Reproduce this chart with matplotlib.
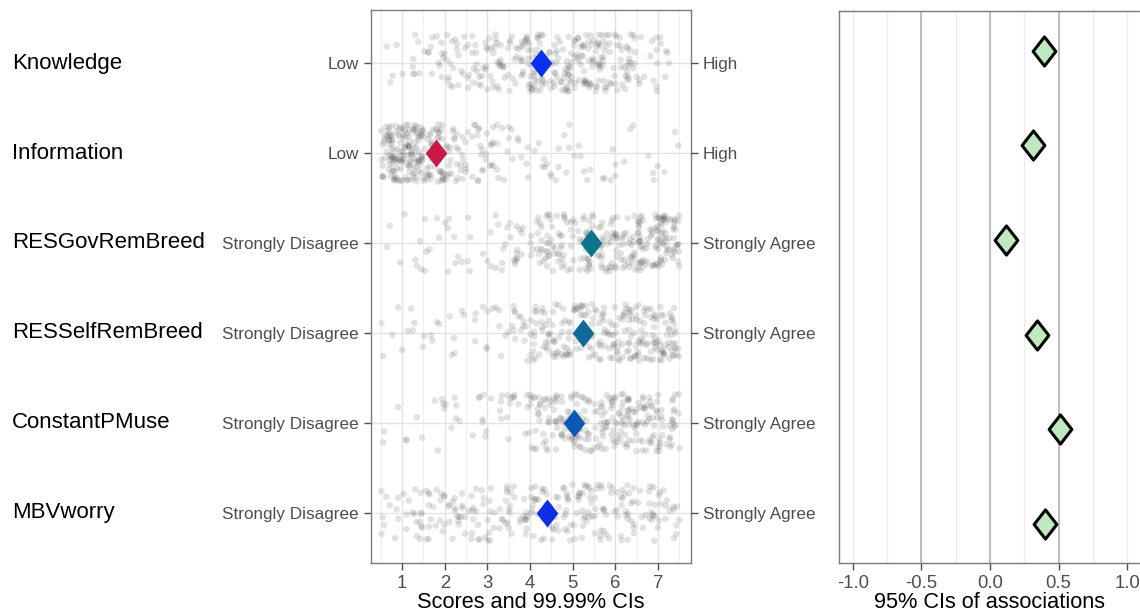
import numpy as np
import matplotlib
matplotlib.use("Agg")
import matplotlib.pyplot as plt
from matplotlib.path import Path
import matplotlib.transforms as mtransforms

plt.rcParams["font.family"] = ["Liberation Sans", "DejaVu Sans"]

# --- data ---
variables = ["Knowledge", "Information", "RESGovRemBreed",
             "RESSelfRemBreed", "ConstantPMuse", "MBVworry"]
low_labels = ["Low", "Low", "Strongly Disagree", "Strongly Disagree",
              "Strongly Disagree", "Strongly Disagree"]
high_labels = ["High", "High", "Strongly Agree", "Strongly Agree",
               "Strongly Agree", "Strongly Agree"]

# mean scores (diamonds, left panel)
mean_scores = [4.26, 1.80, 5.43, 5.24, 5.03, 4.40]
mean_colors = ["#0a30ee", "#c81a48", "#0b7688", "#0f6a98", "#0d58b2", "#0a2fe4"]

# associations (diamonds, right panel)
assoc = [0.39, 0.31, 0.12, 0.34, 0.51, 0.40]

# approximate number of responses in half-point bins from 0.5 to 7.5
bin_edges = np.arange(0.5, 7.51, 0.5)
counts_knowledge = [4, 8, 14, 18, 22, 25, 30, 40, 38, 40, 38, 30, 12, 6]
counts_information = [70, 80, 45, 30, 18, 14, 10, 8, 7, 6, 5, 4, 4, 3]
counts_resgov = [3, 5, 6, 8, 6, 10, 14, 30, 28, 35, 32, 35, 50, 55]
counts_resself = [4, 6, 5, 6, 6, 8, 14, 30, 30, 32, 30, 40, 38, 40]
counts_constant = [3, 4, 5, 6, 8, 8, 10, 30, 32, 36, 38, 42, 36, 30]
counts_mbv = [10, 16, 18, 18, 16, 20, 18, 26, 24, 25, 22, 24, 18, 16]
all_counts = [counts_knowledge, counts_information, counts_resgov,
              counts_resself, counts_constant, counts_mbv]

rows = np.arange(1, len(variables) + 1)


def hash01(k, salt):
    # deterministic scatter of index k into [0, 1), used only for jitter
    v = np.sin(k * 12.9898 + salt * 78.233) * 43758.5453
    return v - np.floor(v)


def jitter_points(counts, row):
    """Spread each bin's responses over the bin width and row height."""
    xs, ys = [], []
    k = 0
    for lo, n in zip(bin_edges[:-1], counts):
        for _ in range(n):
            k += 1
            xs.append(lo + hash01(k, row) * 0.5)
            ys.append(row + (hash01(k, row + 10.5) - 0.5) * 0.64)
    return xs, ys


# tall diamond marker
tall_diamond = Path([(0, -0.5), (0.39, 0), (0, 0.5), (-0.39, 0), (0, -0.5)],
                    [Path.MOVETO, Path.LINETO, Path.LINETO, Path.LINETO,
                     Path.CLOSEPOLY])

fig = plt.figure(figsize=(11.4, 6.13), dpi=100)

# --- left panel: scores ---
ax = fig.add_axes([0.3254, 0.0816, 0.2807, 0.902])
ax.set_xlim(0.27, 7.77)
ax.set_ylim(6.56, 0.41)

for x in np.arange(0.5, 7.6, 0.5):
    is_major = float(x).is_integer()
    ax.axvline(x, color="#e3e3e3" if is_major else "#efefef",
               lw=1.0 if is_major else 0.7, zorder=0)
for r in rows:
    ax.axhline(r, color="#e3e3e3", lw=1.0, zorder=0)

for r, counts in zip(rows, all_counts):
    xs, ys = jitter_points(counts, r)
    ax.scatter(xs, ys, s=22, color="#404040", alpha=0.15,
               edgecolors="none", zorder=2)

for r, m, c in zip(rows, mean_scores, mean_colors):
    ax.plot(m, r, marker=tall_diamond, markersize=20, color=c,
            markeredgewidth=0, zorder=3)

ax.set_xticks(range(1, 8))
ax.set_yticks(rows)
ax.set_yticklabels(low_labels)
ax.tick_params(axis="both", colors="#4d4d4d", labelsize=12.3, length=5,
               width=1)
ax.tick_params(axis="x", labelsize=13.3, pad=4)
ax.set_xlabel("Scores and 99.99% CIs", fontsize=15.7, labelpad=0)
for sp in ax.spines.values():
    sp.set_color("#7a7a7a")
    sp.set_linewidth(1.0)

ax_r = ax.twinx()
ax_r.set_ylim(ax.get_ylim())
ax_r.set_yticks(rows)
ax_r.set_yticklabels(high_labels)
ax_r.tick_params(axis="y", colors="#4d4d4d", labelsize=12.3, length=5, width=1)
for sp in ax_r.spines.values():
    sp.set_visible(False)

# variable names on the far left
trans = mtransforms.blended_transform_factory(fig.transFigure, ax.transData)
for r, name in zip(rows, variables):
    ax.text(12 / 1140, r, name, transform=trans, ha="left", va="center",
            fontsize=16, color="black")

# --- right panel: associations ---
ax2 = fig.add_axes([839 / 1140, 0.0816, 302 / 1140, 0.9005])
ax2.set_xlim(-1.1, 1.1)
ax2.set_ylim(6.41, 0.58)

for x in np.arange(-1.0, 1.01, 0.25):
    ax2.axvline(x, color="#ebebeb", lw=1.0, zorder=0)
for x in [-0.5, 0.0, 0.5]:
    ax2.axvline(x, color="#bdbdbd", lw=1.4, zorder=1)

ax2.plot(assoc, rows, linestyle="none", marker=tall_diamond, markersize=21,
         markerfacecolor="#bfe8bf", markeredgecolor="black",
         markeredgewidth=2.2, zorder=3)

ax2.set_xticks([-1.0, -0.5, 0.0, 0.5, 1.0])
ax2.set_xticklabels(["-1.0", "-0.5", "0.0", "0.5", "1.0"])
ax2.set_yticks([])
ax2.tick_params(axis="x", colors="#4d4d4d", labelsize=13.3, length=5,
                width=1, pad=4)
ax2.set_xlabel("95% CIs of associations", fontsize=15.7, labelpad=0)
for sp in ax2.spines.values():
    sp.set_color("#7a7a7a")
    sp.set_linewidth(1.0)

fig.savefig("out.png", dpi=100)
